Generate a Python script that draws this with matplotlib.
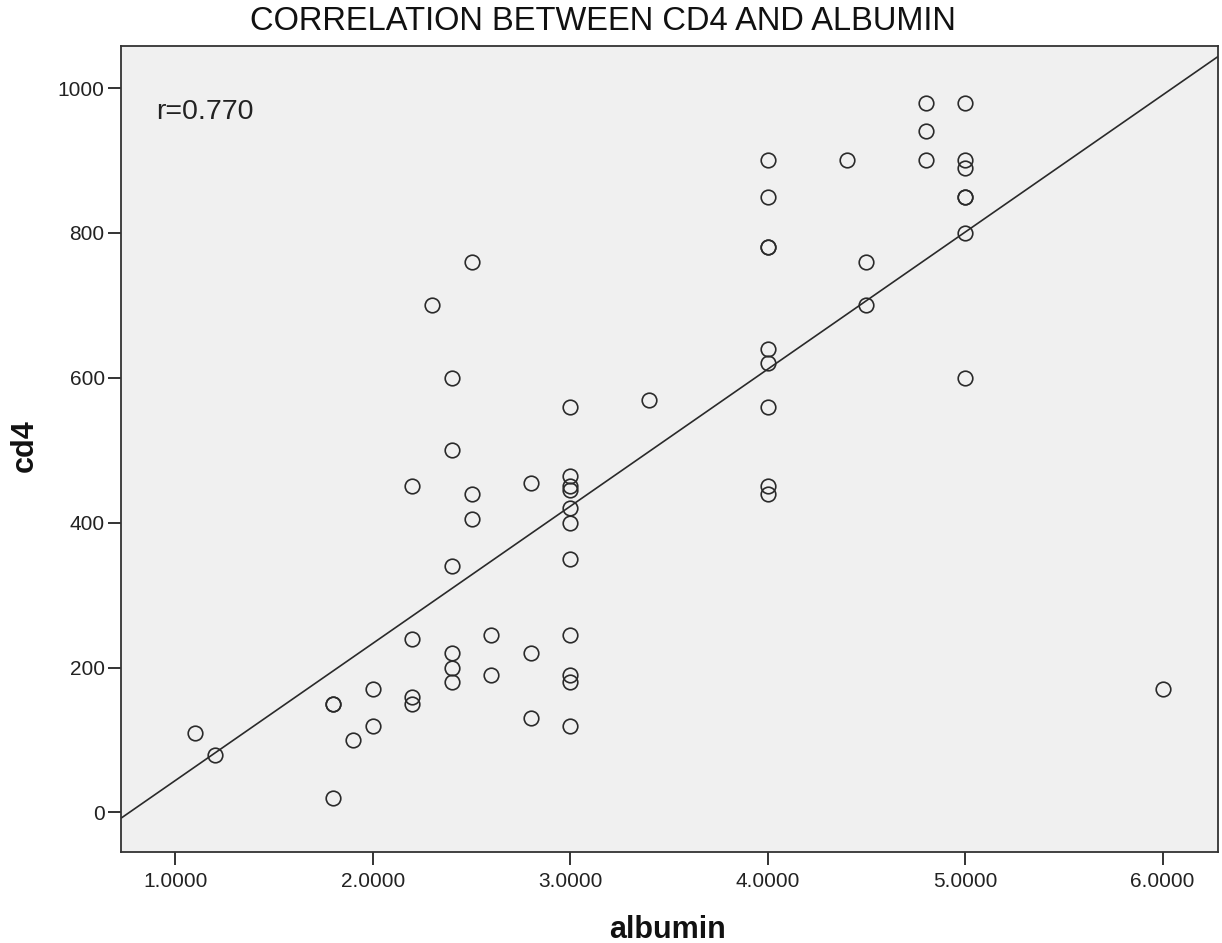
import numpy as np
import matplotlib
matplotlib.use("Agg")
import matplotlib.pyplot as plt

plt.rcParams['font.family'] = ['Liberation Sans', 'DejaVu Sans']

# Data
albumin = [1.1, 1.2,
           1.8, 1.8, 1.8,
           1.9,
           2.0, 2.0,
           2.2, 2.2, 2.2, 2.2,
           2.3,
           2.4, 2.4, 2.4, 2.4, 2.4, 2.4,
           2.5, 2.5, 2.5,
           2.6, 2.6,
           2.8, 2.8, 2.8,
           3.0, 3.0, 3.0, 3.0, 3.0, 3.0, 3.0, 3.0, 3.0, 3.0, 3.0,
           3.4,
           4.0, 4.0, 4.0, 4.0, 4.0, 4.0, 4.0, 4.0, 4.0,
           4.4,
           4.5, 4.5,
           4.8, 4.8, 4.8,
           5.0, 5.0, 5.0, 5.0, 5.0, 5.0, 5.0,
           6.0]
cd4 = [110, 80,
       150, 150, 20,
       100,
       170, 120,
       450, 240, 160, 150,
       700,
       600, 500, 340, 220, 200, 180,
       760, 440, 405,
       245, 190,
       455, 220, 130,
       560, 465, 450, 445, 420, 400, 350, 245, 190, 180, 120,
       570,
       900, 850, 780, 780, 640, 620, 560, 450, 440,
       900,
       760, 700,
       980, 940, 900,
       980, 900, 890, 850, 850, 800, 600,
       170]

x_ticks = [1.0, 2.0, 3.0, 4.0, 5.0, 6.0]
x_tick_labels = ["1.0000", "2.0000", "3.0000", "4.0000", "5.0000", "6.0000"]
y_ticks = [0, 200, 400, 600, 800, 1000]
r_label = "r=0.770"

W, H = 1222, 943
fig = plt.figure(figsize=(W / 100, H / 100), dpi=100)
fig.patch.set_facecolor("white")
ax = fig.add_axes([120.7 / W, 1 - 852.3 / H, (1218 - 120.7) / W, (852.3 - 46) / H])
ax.set_facecolor("#f0f0f0")

xa = np.array(albumin)
ya = np.array(cd4)
ax.plot(xa, ya, linestyle="none", marker="o", markersize=10.5,
        markerfacecolor="none", markeredgecolor="#2a2a2a", markeredgewidth=1.2)

xlim = (0.7224, 6.281)
ylim = (-55, 1058)
slope, intercept = np.polyfit(xa, ya, 1)
xl = np.array(xlim)
ax.plot(xl, intercept + slope * xl, color="#2a2a2a", linewidth=1.2)

ax.set_xlim(*xlim)
ax.set_ylim(*ylim)
ax.set_xticks(x_ticks)
ax.set_xticklabels(x_tick_labels)
ax.set_yticks(y_ticks)

for s in ax.spines.values():
    s.set_color("#333333")
    s.set_linewidth(1.3)
ax.tick_params(axis="both", direction="out", length=9.5, width=1.4,
               color="#333333", labelcolor="#222222", labelsize=15)
ax.tick_params(axis="x", pad=5)
ax.tick_params(axis="y", pad=2)

ax.text(156 / W, 1 - 112 / H, r_label, transform=fig.transFigure,
        fontsize=20.5, color="#222222", va="center", ha="left")

fig.text(602.5 / W, 1 - 22 / H, "CORRELATION BETWEEN CD4 AND ALBUMIN",
         fontsize=23.5, color="#111111", ha="center", va="center")
fig.text(667 / W, 1 - 930 / H, "albumin", fontsize=22, fontweight="bold",
         ha="center", va="center", color="#111111")
fig.text(25 / W, 1 - 446 / H, "cd4", fontsize=22, fontweight="bold",
         rotation=90, ha="center", va="center", color="#111111")

fig.savefig("out.png", dpi=100, facecolor="white")
